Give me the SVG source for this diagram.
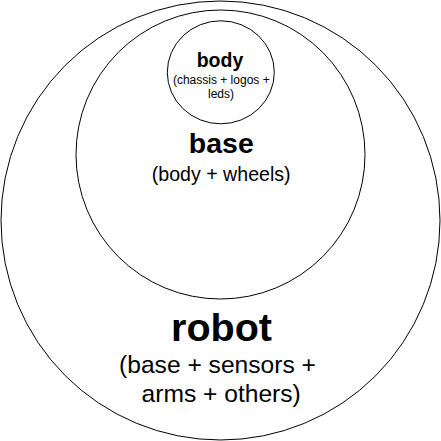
<svg xmlns="http://www.w3.org/2000/svg" width="441" height="441" viewBox="0 0 441 441">
<style>
.c{fill:#fff;stroke:#000;stroke-width:1}
text{font-family:"Liberation Sans",Arial,sans-serif;fill:#000;text-anchor:middle}
.b{font-weight:bold}
</style>
<rect width="441" height="441" fill="#fff"/>
<g id="robot">
<circle class="c" cx="220.5" cy="220.5" r="219.5"/>
<text class="b" x="221.5" y="340.5" font-size="39.5">robot</text>
<text x="217.5" y="372.5" font-size="24.6">(base + sensors +</text>
<text x="221.2" y="401.5" font-size="24.6">arms + others)</text>
</g>
<g id="base">
<circle class="c" cx="220.5" cy="154.5" r="144.5"/>
<text class="b" x="221.3" y="153.3" font-size="28.5">base</text>
<text x="221.2" y="180.7" font-size="19.6">(body + wheels)</text>
</g>
<g id="body">
<ellipse class="c" cx="220.8" cy="72.3" rx="53.5" ry="51.5"/>
<text class="b" x="220" y="66.7" font-size="19.5">body</text>
<text x="221.3" y="84" font-size="12">(chassis + logos +</text>
<text x="221" y="98.3" font-size="12">leds)</text>
</g>
<g id="connectors"/>
</svg>
